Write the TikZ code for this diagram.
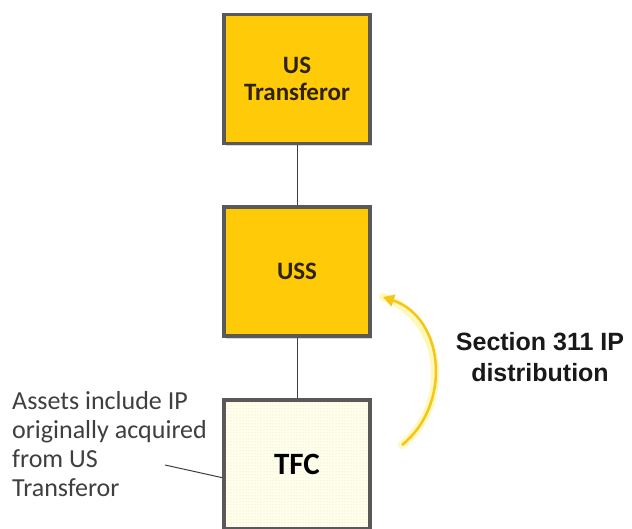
\documentclass[tikz,border=0pt]{standalone}
\usepackage{fontspec}
\setmainfont{Carlito}
\newfontfamily\arialfont{Liberation Sans}
\usetikzlibrary{arrows.meta,patterns,shadows}
\definecolor{boxgold}{HTML}{FFCA08}
\definecolor{boxedge}{HTML}{595959}
\definecolor{boxtext}{HTML}{2E2200}
\definecolor{notegray}{HTML}{3F3F3F}
\definecolor{arrowgold}{HTML}{F5C518}
\definecolor{glowyellow}{HTML}{FFF06A}
\definecolor{dotcream}{HTML}{FFFFF0}
\definecolor{dotyellow}{HTML}{E3DE8C}

\begin{document}
\begin{tikzpicture}[x=1pt,y=-1pt,
    entity/.style={draw=boxedge,line width=3.5pt,minimum width=146pt,minimum height=129pt,
        align=center,text=boxtext,font=\bfseries\fontsize{25}{27}\selectfont,
        drop shadow={shadow xshift=2pt,shadow yshift=-3pt,opacity=0.3}},
    link/.style={boxedge!70!black,line width=1pt}]
    \fill[white] (0,0) rectangle (632,529);
    \useasboundingbox (0,0) rectangle (632,529);
    % the three companies
    \node[entity,fill=boxgold] (ustr) at (297,79) {US\\Transferor};
    \node[entity,fill=boxgold] (uss) at (297,271.5) {USS};
    \node[entity,fill=dotcream,text=black,font=\bfseries\fontsize{31}{33}\selectfont,
        postaction={pattern=dots,pattern color=dotyellow},
        postaction={draw=boxedge,line width=3.5pt}] (tfc) at (297,464.5) {TFC};
    \draw[link] (ustr) -- (uss);
    \draw[link] (uss) -- (tfc);
    % note on the left
    \node[anchor=base west,align=left,inner sep=0pt,text=notegray,
        font=\fontsize{26}{29}\selectfont] (note) at (12,496)
        {Assets include IP\\originally acquired\\from US\\Transferor};
    \coordinate (leadstart) at (165,465);
    \draw[notegray,line width=1pt] (leadstart) -- (tfc.190);
    % distribution arrow
    \coordinate (bendtail) at (402,445);
    \coordinate (bendtip) at (383,297);
    \draw[glowyellow,line width=8pt,opacity=0.45,line cap=round]
        (bendtail) .. controls (452,405) and (445,318) .. (bendtip);
    \draw[arrowgold,line width=2.5pt,-{Triangle[length=11pt,width=12pt]}]
        (bendtail) .. controls (452,405) and (445,318) .. (bendtip);
    \node[font=\arialfont\bfseries\fontsize{25}{31}\selectfont,align=center,
        text=black!90] (sec311) at (540,357) {Section 311 IP\\distribution};
\end{tikzpicture}
\end{document}
